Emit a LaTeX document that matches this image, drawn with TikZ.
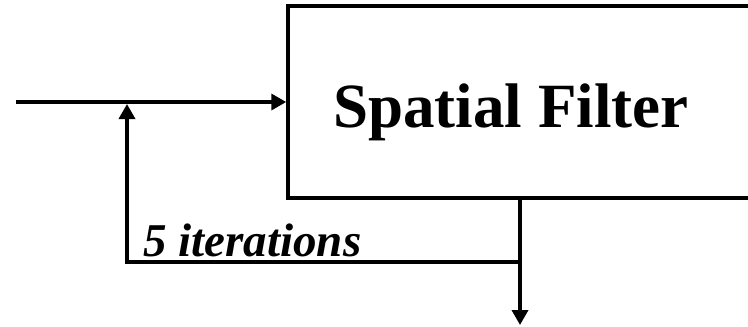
\documentclass[tikz,border=0pt]{standalone}
\usepackage{fontspec}
\setmainfont{Liberation Serif}
\usetikzlibrary{arrows.meta}

\tikzset{
  wire/.style={line width=3.5bp, line join=miter},
  flow/.style={wire, -{Triangle[width=16bp,length=15bp]}},
  filterbox/.style={draw, line width=3.5bp, minimum width=472bp, minimum height=192.3bp, inner sep=0pt},
  titletext/.style={font=\bfseries\fontsize{63bp}{70bp}\selectfont, inner sep=0pt, anchor=base},
  itertext/.style={font=\bfseries\itshape\fontsize{47bp}{52bp}\selectfont, inner sep=0pt, anchor=base west}
}

\begin{document}
\begin{tikzpicture}[x=1bp, y=-1bp]
  \useasboundingbox (0,0) rectangle (748,326);
  \clip (0,0) rectangle (748,326);

  % filter block (runs off the right-hand side)
  \node[filterbox] (filter) at (524,101.9) {};
  \node[titletext] (title) at (511,127) {Spatial Filter};

  % signal path points
  \coordinate (in) at (16,102);
  \coordinate (join) at (127,104);
  \coordinate (tap) at (520,262);
  \coordinate (back) at (127,262);
  \coordinate (out) at (520,325);

  % input into the filter
  \draw[flow] (in) -- (filter.west |- in);

  % output and feedback loop
  \draw[flow] (filter.south -| tap) -- (out);
  \draw[flow] (tap) -- (back) -- (join);

  \node[itertext] (iter) at (143,256) {5 iterations};
\end{tikzpicture}
\end{document}
